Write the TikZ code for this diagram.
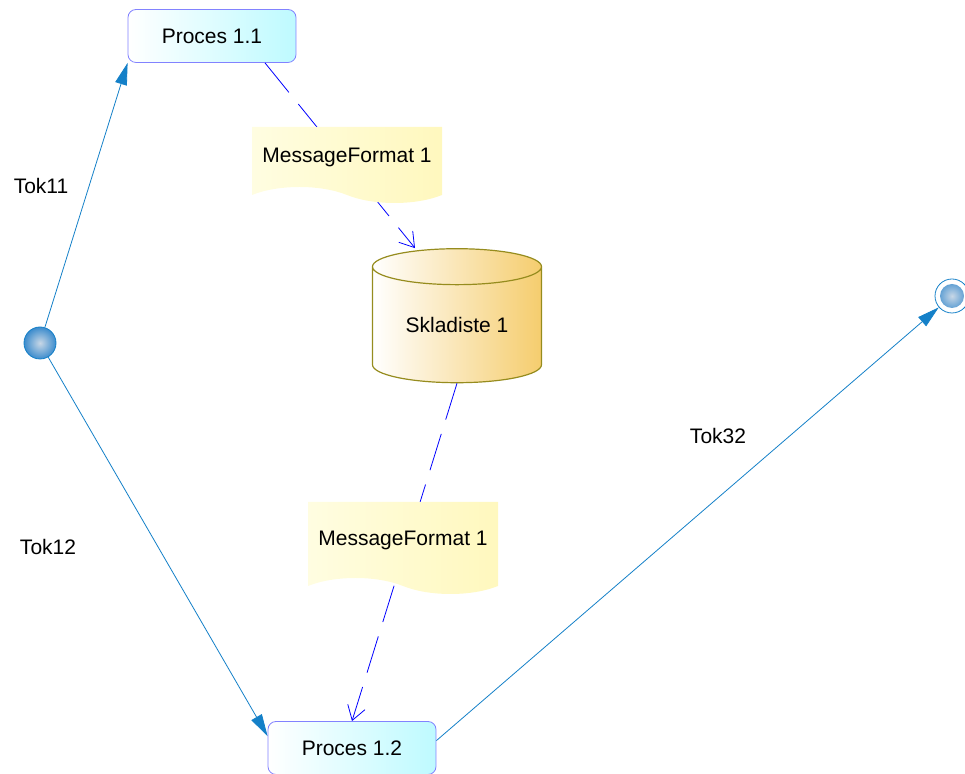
\documentclass[tikz,border=0pt]{standalone}
\usepackage{fontspec}
\setmainfont{Liberation Sans}
\usetikzlibrary{arrows.meta,positioning,shapes.geometric,shapes.symbols}

\definecolor{flowblue}{RGB}{20,128,200}
\definecolor{procline}{RGB}{130,130,255}
\definecolor{procfill}{RGB}{190,250,255}
\definecolor{storeline}{RGB}{150,140,30}
\definecolor{storefill}{RGB}{245,205,110}
\definecolor{noteleft}{RGB}{255,253,225}
\definecolor{noteright}{RGB}{255,248,190}
\definecolor{ballblue}{RGB}{60,140,205}
\definecolor{balllight}{RGB}{200,215,230}

\tikzset{
  proc/.style={rectangle,rounded corners=4pt,draw=procline,left color=white,right color=procfill,
    minimum width=84pt,minimum height=26.5pt,inner sep=0pt},
  store/.style={cylinder,shape border rotate=90,aspect=0.35,draw=storeline,line width=0.6pt,left color=white,
    right color=storefill,minimum width=84.5pt,minimum height=67pt,inner sep=0pt},
  note/.style={tape,tape bend top=none,tape bend bottom=out and in,tape bend height=8pt,
    left color=noteleft,right color=noteright,minimum width=95pt,inner sep=0pt},
  ball/.style={circle,inner sep=0pt,inner color=balllight,outer color=ballblue},
  flow/.style={draw=flowblue,-{Triangle[length=11pt,width=6pt]}},
  msg/.style={draw=blue,dash pattern=on 19pt off 7.5pt,-{Straight Barb[length=7pt,width=9pt]}}
}

\begin{document}
\begin{tikzpicture}[x=0.5pt,y=-0.5pt,font=\fontsize{10.5}{12}\selectfont]
    \useasboundingbox (0,0) rectangle (965,774);

    % processes and store
    \node[proc] (proc11) at (212,36) {Proces 1.1};
    \node[proc] (proc12) at (352,748) {Proces 1.2};
    \node[store] (store) at (457,325) {Skladiste 1};

    % start and end
    \node[ball,draw=flowblue,minimum size=16pt] (start) at (40,343) {};
    \node[circle,minimum size=17pt,inner sep=0pt,draw=flowblue,
      path picture={\shade[inner color=balllight,outer color=ballblue] (path picture bounding box.center) circle (6pt);}] (finish) at (952,296) {};

    \foreach \from/\to in {start/proc11.south west,start/proc12.172,proc12.5/finish}
    \draw[flow] (\from) -- (\to);

    % message flows, notes lie on top
    \draw[msg] ([xshift=26.5pt]proc11.south) -- ([xshift=-21pt]store.north);
    \draw[msg] (store.south) -- (proc12.north);

    \node[note,minimum height=38pt] (msg1) at (347,157) {MessageFormat 1};
    \node[note,minimum height=46pt] (msg2) at (403,540) {MessageFormat 1};

    % flow names
    \node (tok11) at (41,186) {Tok11};
    \node (tok12) at (48,547) {Tok12};
    \node (tok32) at (718,436) {Tok32};
\end{tikzpicture}
\end{document}
